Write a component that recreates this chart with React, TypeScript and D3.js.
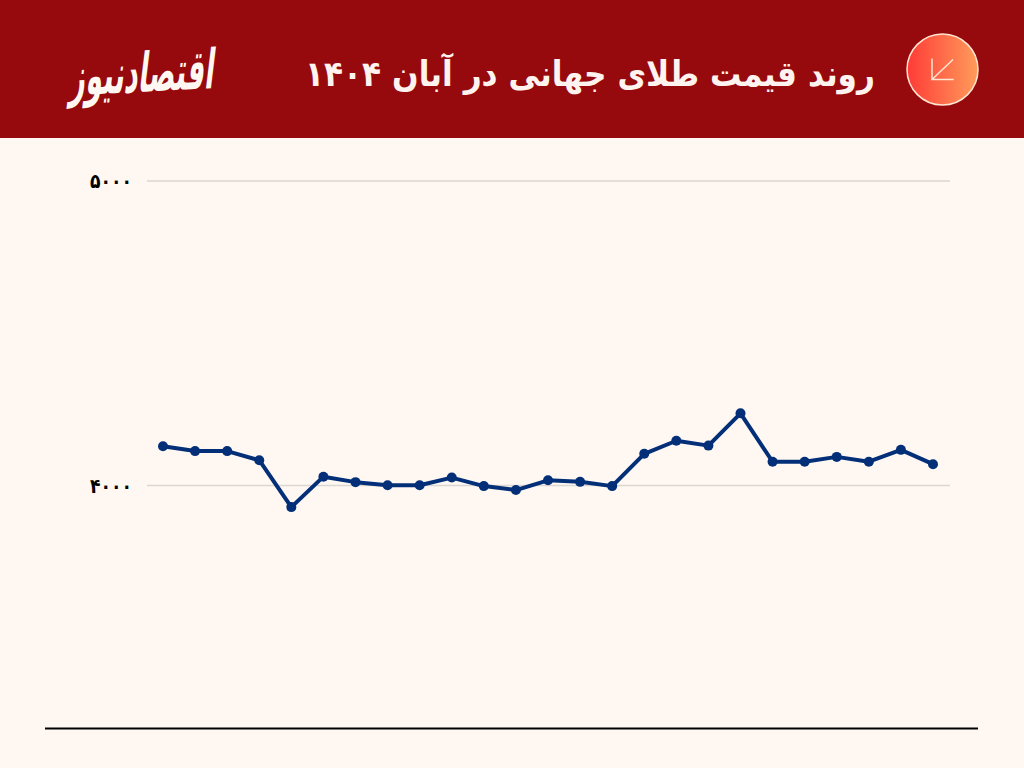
import React from "react";
import * as d3 from "d3";

const days = d3.range(1, 26);
const prices = [4129, 4113, 4113, 4083, 3929, 4029, 4011, 4001, 4001, 4026, 3998, 3985, 4017, 4012, 3998, 4104, 4147, 4131, 4237, 4078, 4078, 4094, 4078, 4117, 4070];
const yTicks = [4000, 5000];
const yTickLabels = ["۴۰۰۰", "۵۰۰۰"];
const titleText = "روند قیمت طلای جهانی در آبان ۱۴۰۴";
const logoText = "اقتصادنیوز";

const x = d3.scaleLinear().domain([1, 25]).range([163, 933]);
const y = d3.scaleLinear().domain([4000, 5000]).range([485.5, 181]);
const line = d3.line<number>().x((_, i) => x(days[i])).y((d) => y(d));

const FONT = "'DejaVu Sans', 'Noto Sans', sans-serif";

export default function App() {
  return (
    <svg width={1024} height={768} viewBox="0 0 1024 768" style={{ position: "absolute", left: 0, top: 0, display: "block" }}>
      <defs>
        <linearGradient id="badge" x1="0" x2="1" y1="0" y2="0">
          <stop offset="0" stopColor="#ff3b37" />
          <stop offset="1" stopColor="#ff9c5b" />
        </linearGradient>
      </defs>
      <rect width={1024} height={768} fill="#fff8f2" />
      <rect width={1024} height={138} fill="#96090c" />

      <text x={875} y={86} direction="rtl" textAnchor="start" fontFamily={FONT} fontWeight={700} fontSize={35} fill="#fff3ef" textLength={570} lengthAdjust="spacingAndGlyphs">{titleText}</text>
      <g transform="translate(213,88) rotate(-3) skewX(-10) scale(1,1.6)">
        <text x={0} y={0} direction="rtl" textAnchor="start" fontFamily={FONT} fontWeight={700} fontSize={34} fill="#fff8f2" textLength={144} lengthAdjust="spacingAndGlyphs">{logoText}</text>
      </g>

      <circle cx={942.5} cy={69.5} r={35.5} fill="url(#badge)" stroke="#ffe6d2" strokeWidth={1.5} />
      <path d="M932 58.5V79.5H953.7M932 79.5L953 59.5" fill="none" stroke="#ffe6d2" strokeWidth={1.5} />

      {yTicks.map((t, i) => (
        <g key={t}>
          <line x1={147} x2={950} y1={y(t)} y2={y(t)} stroke="#dbd6d1" strokeWidth={1.5} />
          <text x={132} y={y(t) + 7} textAnchor="end" fontFamily={FONT} fontWeight={700} fontSize={20} fill="#000" textLength={42} lengthAdjust="spacingAndGlyphs">{yTickLabels[i]}</text>
        </g>
      ))}

      <path d={line(prices) ?? ""} fill="none" stroke="#022f78" strokeWidth={4} strokeLinejoin="round" />
      {prices.map((p, i) => (
        <circle key={i} cx={x(days[i])} cy={y(p)} r={5} fill="#022f78" />
      ))}

      <line x1={45} x2={978} y1={728.5} y2={728.5} stroke="#000" strokeWidth={2} />
    </svg>
  );
}
